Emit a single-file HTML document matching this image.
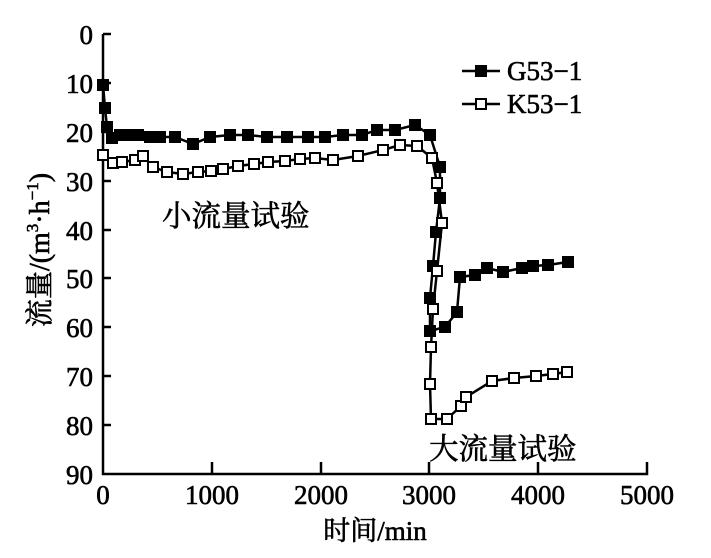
<!DOCTYPE html>
<html><head><meta charset="utf-8"><style>
html,body{margin:0;padding:0;background:#fff;}
svg{display:block;}
text{font-family:"Liberation Serif","Noto Serif CJK SC",serif;fill:#000;stroke:#000;stroke-width:0.6;}
</style></head><body>
<svg width="711" height="558" viewBox="0 0 711 558" xmlns="http://www.w3.org/2000/svg">
<g stroke="#000" stroke-width="2.5" fill="none">
<polyline points="103,34 103,474 647,474 647,462"/>
<line x1="103" y1="34" x2="111" y2="34"/>
<line x1="103" y1="83" x2="111" y2="83"/>
<line x1="103" y1="132" x2="111" y2="132"/>
<line x1="103" y1="181" x2="111" y2="181"/>
<line x1="103" y1="230" x2="111" y2="230"/>
<line x1="103" y1="278" x2="111" y2="278"/>
<line x1="103" y1="327" x2="111" y2="327"/>
<line x1="103" y1="376" x2="111" y2="376"/>
<line x1="103" y1="425" x2="111" y2="425"/>
<line x1="212" y1="474" x2="212" y2="462"/>
<line x1="321" y1="474" x2="321" y2="462"/>
<line x1="429" y1="474" x2="429" y2="462"/>
<line x1="538" y1="474" x2="538" y2="462"/>
</g>
<g font-size="27" text-anchor="end">
<text x="93" y="44">0</text><text x="93" y="93">10</text><text x="93" y="142">20</text>
<text x="93" y="191">30</text><text x="93" y="240">40</text><text x="93" y="288">50</text>
<text x="93" y="337">60</text><text x="93" y="386">70</text><text x="93" y="435">80</text>
<text x="93" y="484">90</text>
</g>
<g font-size="27" text-anchor="middle">
<text x="103" y="504">0</text><text x="212" y="504">1000</text><text x="321" y="504">2000</text>
<text x="429" y="504">3000</text><text x="538" y="504">4000</text><text x="647" y="504">5000</text>
<text x="375" y="540" font-size="27">时间/min</text>
</g>
<text transform="translate(49,250) rotate(-90)" font-size="28" text-anchor="middle">流量/(m<tspan font-size="17" dy="-11">3</tspan><tspan dy="11">·h</tspan><tspan font-size="17" dy="-11">−1</tspan><tspan dy="11">)</tspan></text>
<text x="162" y="226" font-size="29.5">小流量试验</text>
<text x="429" y="459" font-size="29.5">大流量试验</text>
<!-- G53-1 -->
<polyline fill="none" stroke="#000" stroke-width="2.5" points="103,85 105,108 107,127 112,138 120,135 130,135 138,135 150,137 160,137 175,137 193,144 210,137 230,135 248,135 267,137 287,137 308,137 325,137 343,135 362,135 377,130 395,130 415,125 430,135 440,167 440,198 436,232 433,266 430,298 430,331 445,327 457,312 460,277 475,275 487,268 503,272 522,268 533,266 548,265 568,262"/>
<g fill="#000">
<rect x="97" y="79" width="12" height="12"/><rect x="99" y="102" width="12" height="12"/><rect x="101" y="121" width="12" height="12"/><rect x="106" y="132" width="12" height="12"/><rect x="114" y="129" width="12" height="12"/><rect x="124" y="129" width="12" height="12"/><rect x="132" y="129" width="12" height="12"/><rect x="144" y="131" width="12" height="12"/><rect x="154" y="131" width="12" height="12"/><rect x="169" y="131" width="12" height="12"/><rect x="187" y="138" width="12" height="12"/><rect x="204" y="131" width="12" height="12"/><rect x="224" y="129" width="12" height="12"/><rect x="242" y="129" width="12" height="12"/><rect x="261" y="131" width="12" height="12"/><rect x="281" y="131" width="12" height="12"/><rect x="302" y="131" width="12" height="12"/><rect x="319" y="131" width="12" height="12"/><rect x="337" y="129" width="12" height="12"/><rect x="356" y="129" width="12" height="12"/><rect x="371" y="124" width="12" height="12"/><rect x="389" y="124" width="12" height="12"/><rect x="409" y="119" width="12" height="12"/><rect x="424" y="129" width="12" height="12"/><rect x="434" y="161" width="12" height="12"/><rect x="434" y="192" width="12" height="12"/><rect x="430" y="226" width="12" height="12"/><rect x="427" y="260" width="12" height="12"/><rect x="424" y="292" width="12" height="12"/><rect x="424" y="325" width="12" height="12"/><rect x="439" y="321" width="12" height="12"/><rect x="451" y="306" width="12" height="12"/><rect x="454" y="271" width="12" height="12"/><rect x="469" y="269" width="12" height="12"/><rect x="481" y="262" width="12" height="12"/><rect x="497" y="266" width="12" height="12"/><rect x="516" y="262" width="12" height="12"/><rect x="527" y="260" width="12" height="12"/><rect x="542" y="259" width="12" height="12"/><rect x="562" y="256" width="12" height="12"/>
</g>
<!-- K53-1 -->
<polyline fill="none" stroke="#000" stroke-width="2.5" points="103,155 113,163 122,162 135,160 143,156 153,167 167,172 183,174 198,172 211,171 223,169 238,166 254,164 268,162 285,161 300,159 315,158 333,160 358,156 383,150 400,145 417,146 432,158 437,183 442,223 437,271 433,309 431,347 430,384 431,419 447,419 461,406 466,397 492,381 514,378 536,376 553,374 567,372"/>
<g fill="#fff" stroke="#000" stroke-width="2">
<rect x="98" y="150" width="10" height="10"/><rect x="108" y="158" width="10" height="10"/><rect x="117" y="157" width="10" height="10"/><rect x="130" y="155" width="10" height="10"/><rect x="138" y="151" width="10" height="10"/><rect x="148" y="162" width="10" height="10"/><rect x="162" y="167" width="10" height="10"/><rect x="178" y="169" width="10" height="10"/><rect x="193" y="167" width="10" height="10"/><rect x="206" y="166" width="10" height="10"/><rect x="218" y="164" width="10" height="10"/><rect x="233" y="161" width="10" height="10"/><rect x="249" y="159" width="10" height="10"/><rect x="263" y="157" width="10" height="10"/><rect x="280" y="156" width="10" height="10"/><rect x="295" y="154" width="10" height="10"/><rect x="310" y="153" width="10" height="10"/><rect x="328" y="155" width="10" height="10"/><rect x="353" y="151" width="10" height="10"/><rect x="378" y="145" width="10" height="10"/><rect x="395" y="140" width="10" height="10"/><rect x="412" y="141" width="10" height="10"/><rect x="427" y="153" width="10" height="10"/><rect x="432" y="178" width="10" height="10"/><rect x="437" y="218" width="10" height="10"/><rect x="432" y="266" width="10" height="10"/><rect x="428" y="304" width="10" height="10"/><rect x="426" y="342" width="10" height="10"/><rect x="425" y="379" width="10" height="10"/><rect x="426" y="414" width="10" height="10"/><rect x="442" y="414" width="10" height="10"/><rect x="456" y="401" width="10" height="10"/><rect x="461" y="392" width="10" height="10"/><rect x="487" y="376" width="10" height="10"/><rect x="509" y="373" width="10" height="10"/><rect x="531" y="371" width="10" height="10"/><rect x="548" y="369" width="10" height="10"/><rect x="562" y="367" width="10" height="10"/>
</g>
<!-- legend -->
<line x1="462" y1="71" x2="500" y2="71" stroke="#000" stroke-width="2.5"/>
<rect x="475" y="65" width="12" height="12" fill="#000"/>
<line x1="462" y1="104" x2="500" y2="104" stroke="#000" stroke-width="2.5"/>
<rect x="476" y="99" width="10" height="10" fill="#fff" stroke="#000" stroke-width="2"/>
<text x="507" y="80" font-size="27">G53−1</text>
<text x="507" y="113" font-size="27">K53−1</text>
</svg>
</body></html>
